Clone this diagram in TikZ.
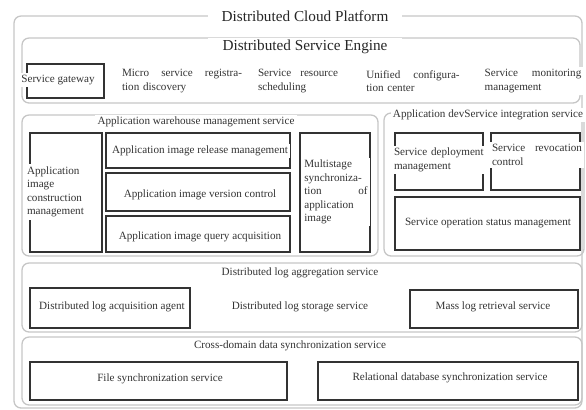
\documentclass[tikz,border=0pt]{standalone}
\usepackage{fontspec}
\setmainfont{Liberation Serif}
\usetikzlibrary{fit, positioning}

\tikzset{
  grpbox/.style={draw=gray!45, line width=1.1pt, rounded corners=6pt, inner sep=0pt},
  svcbox/.style={draw=black!80, line width=1.1pt, inner sep=0pt},
  toplbl/.style={fill=white, inner xsep=12pt, inner ysep=2pt, font=\fontsize{13}{15}\selectfont, text=black!85},
  grplbl/.style={fill=white, inner sep=2pt, font=\fontsize{9.5}{11.5}\selectfont, text=black!80},
  svclbl/.style={fill=white, inner sep=2pt, font=\fontsize{9.5}{11.5}\selectfont, text=black!80, align=left},
}

\begin{document}
\begin{tikzpicture}[x=0.3mm, y=-0.3mm]
  \useasboundingbox (0,0) rectangle (586,410);

  % group frames
  \node[grpbox, fit={(14,16) (582,408)}] (platform) {};
  \node[grpbox, fit={(22,38) (580,103)}] (engine) {};
  \node[grpbox, fit={(22,115) (378,256)}] (warehouse) {};
  \node[grpbox, fit={(384,113) (584,256)}] (devsvc) {};
  \node[grpbox, fit={(22,263) (582,332)}] (logagg) {};
  \node[grpbox, fit={(22,337) (582,405)}] (crossdom) {};

  % service frames
  \node[svcbox, fit={(27,64) (104,98)}] (gateway) {};
  \node[svcbox, fit={(30,133) (102,252)}] (imgbuild) {};
  \node[svcbox, fit={(106,133) (290,168)}] (imgrelease) {};
  \node[svcbox, fit={(106,173) (290,211)}] (imgversion) {};
  \node[svcbox, fit={(106,216) (290,252)}] (imgquery) {};
  \node[svcbox, fit={(300,133) (370,252)}] (imgsync) {};
  \node[svcbox, fit={(395,133) (483,190)}] (deploy) {};
  \node[svcbox, fit={(491,133) (580,190)}] (revoke) {};
  \node[svcbox, fit={(395,197) (580,250)}] (opstatus) {};
  \node[svcbox, fit={(30,288) (190,328)}] (logacq) {};
  \node[svcbox, fit={(410,290) (578,328)}] (logsearch) {};
  \node[svcbox, fit={(30,362) (287,400)}] (filesync) {};
  \node[svcbox, fit={(318,362) (578,400)}] (dbsync) {};

  % group titles
  \node[toplbl] (platformlbl) at (305,16) {Distributed Cloud Platform};
  \node[toplbl] (enginelbl) at (305,47) {Distributed Service Engine};
  \node[grplbl] (warehouselbl) at (196,122) {Application warehouse management service};
  \node[grplbl] (devsvclbl) at (488,115) {Application devService integration service};
  \node[grplbl] (logagglbl) at (300,273) {Distributed log aggregation service};
  \node[grplbl] (crossdomlbl) at (290,346) {Cross-domain data synchronization service};

  % engine row
  \node[svclbl] (gatewaylbl) at (58,80) {Service gateway};
  \node[svclbl, text width=36mm] (regdisc) at (182,81) {Micro\hfill service\hfill registra-\\tion discovery};
  \node[svclbl, text width=24mm] (sched) at (298,81) {Service\hfill resource\\scheduling};
  \node[svclbl, text width=28mm] (config) at (413,81) {Unified\hfill configura-\\tion center};
  \node[svclbl, text width=29mm] (monitor) at (533,81) {Service\hfill monitoring\\management};

  % image services
  \node[svclbl, text width=18mm] (imgbuildlbl) at (57,192) {Application\\image\\construction\\management};
  \node[svclbl] (imgreleaselbl) at (200,151) {Application image release management};
  \node[svclbl] (imgversionlbl) at (200,195) {Application image version control};
  \node[svclbl] (imgquerylbl) at (200,237) {Application image query acquisition};
  \node[svclbl, text width=19mm] (imgsynclbl) at (336,192) {Multistage\\synchroniza-\\tion\hfill of\\application\\image};

  % devService items
  \node[svclbl, text width=27mm] (deploylbl) at (439,160) {Service deployment\\management};
  \node[svclbl, text width=27mm] (revokelbl) at (537,155) {Service\hfill revocation\\control};
  \node[svclbl] (opstatuslbl) at (488,223) {Service operation status management};

  % log services
  \node[svclbl] (logacqlbl) at (112,307) {Distributed log acquisition agent};
  \node[svclbl] (logstore) at (300,307) {Distributed log storage service};
  \node[svclbl] (logsearchlbl) at (493,307) {Mass log retrieval service};

  % sync services
  \node[svclbl] (filesynclbl) at (160,379) {File synchronization service};
  \node[svclbl] (dbsynclbl) at (450,378) {Relational database synchronization service};
\end{tikzpicture}
\end{document}
